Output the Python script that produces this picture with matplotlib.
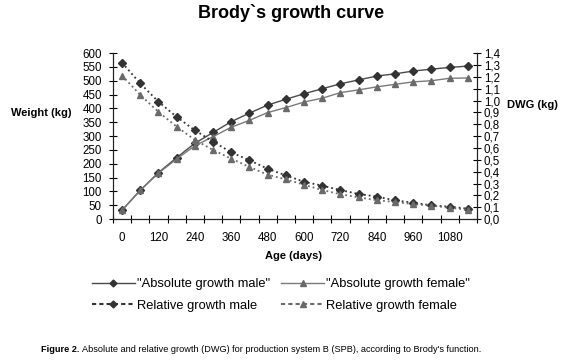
import matplotlib
matplotlib.use("Agg")
import matplotlib.pyplot as plt
from matplotlib.lines import Line2D
import numpy as np

plt.rcParams['font.family'] = ['Liberation Sans', 'DejaVu Sans']

# ages (days), one category every 60 days
age = [0, 60, 120, 180, 240, 300, 360, 420, 480, 540, 600, 660,
       720, 780, 840, 900, 960, 1020, 1080, 1140]

# absolute growth, weight (kg)
abs_male = [32, 104, 168, 222, 274, 313, 352, 383, 412, 433, 453, 471,
            489, 503, 517, 525, 535, 542, 548, 553]
abs_female = [32, 104, 166, 217, 265, 298, 332, 357, 385, 403, 423, 437,
              457, 467, 478, 487, 496, 500, 509, 510]

# relative growth, DWG (kg)
rel_male = [1.32, 1.144, 0.99, 0.862, 0.749, 0.654, 0.563, 0.496, 0.425, 0.369,
            0.315, 0.282, 0.245, 0.212, 0.19, 0.158, 0.139, 0.116, 0.105, 0.088]
rel_female = [1.21, 1.048, 0.904, 0.78, 0.668, 0.583, 0.51, 0.44, 0.375, 0.335,
              0.29, 0.245, 0.21, 0.183, 0.16, 0.144, 0.127, 0.113, 0.096, 0.079]

x_labels = [0, 120, 240, 360, 480, 600, 720, 840, 960, 1080]
w_ticks = list(range(0, 601, 50))
dwg_ticks = [i / 10 for i in range(0, 15)]

dark = '#333333'
mid = '#6a6a6a'

fig = plt.figure(figsize=(5.76, 3.61), dpi=100)
ax = fig.add_axes([0.196, 0.393, 0.632, 0.46])
ax2 = ax.twinx()

ax.plot(age, abs_male, '-', color='#4a4a4a', lw=1.0, marker='D', ms=4,
        mfc=dark, mec=dark)
ax.plot(age, abs_female, '-', color='#7a7a7a', lw=1.0, marker='^', ms=5,
        mfc=mid, mec=mid)
ax2.plot(age, rel_male, ':', color=dark, lw=1.3, marker='D', ms=4,
         mfc=dark, mec=dark)
ax2.plot(age, rel_female, ':', color=mid, lw=1.3, marker='^', ms=5,
         mfc=mid, mec=mid)

ax.set_xlim(-30, 1170)
ax.set_ylim(0, 600)
ax2.set_ylim(0, 1.4)

# category boundaries get the tick marks, labels sit in between
ax.set_xticks(np.arange(-30, 1171, 60))
ax.set_xticklabels([])
ax.set_xticks(x_labels, minor=True)
ax.set_xticklabels([str(v) for v in x_labels], minor=True, fontsize=8.3)
ax.tick_params(axis='x', which='minor', length=0, pad=9)
ax.tick_params(axis='x', which='major', direction='inout', length=6, width=0.8)

ax.set_yticks(w_ticks)
ax.set_yticklabels([str(v) for v in w_ticks], fontsize=8.3)
ax.tick_params(axis='y', direction='inout', length=6, width=0.8, pad=5)
ax2.set_yticks(dwg_ticks)
ax2.set_yticklabels([f'{v:.1f}'.replace('.', ',') for v in dwg_ticks], fontsize=8.3)
ax2.tick_params(axis='y', direction='inout', length=6, width=0.8, pad=2)

for a in (ax, ax2):
    a.spines['top'].set_visible(False)
    for s in ('left', 'bottom', 'right'):
        a.spines[s].set_color('#222222')
        a.spines[s].set_linewidth(0.8)

fig.text(0.505, 0.965, 'Brody`s growth curve', ha='center', va='center',
         fontsize=13, fontweight='bold')
fig.text(0.072, 0.687, 'Weight (kg)', ha='center', va='center',
         fontsize=8, fontweight='bold')
fig.text(0.925, 0.71, 'DWG (kg)', ha='center', va='center',
         fontsize=8, fontweight='bold')
fig.text(0.51, 0.29, 'Age (days)', ha='center', va='center',
         fontsize=8, fontweight='bold')

# legend handles: solid for absolute, short dashes for relative
h_abs_m = Line2D([], [], color='#4a4a4a', lw=1.0, marker='D', ms=3.5, mfc=dark, mec=dark)
h_abs_f = Line2D([], [], color='#7a7a7a', lw=1.0, marker='^', ms=4.5, mfc=mid, mec=mid)
h_rel_m = Line2D([], [], color=dark, lw=1.5, ls=(0, (2, 1.5)), marker='D', ms=3.5, mfc=dark, mec=dark)
h_rel_f = Line2D([], [], color=mid, lw=1.5, ls=(0, (2, 1.5)), marker='^', ms=4.5, mfc=mid, mec=mid)

fig.legend([h_abs_m, h_rel_m, h_abs_f, h_rel_f],
           ['"Absolute growth male"', 'Relative growth male',
            '"Absolute growth female"', 'Relative growth female'],
           ncol=2, loc='center', bbox_to_anchor=(0.488, 0.183), frameon=False,
           fontsize=9.3, handlelength=3.3, handletextpad=0.2,
           columnspacing=0.85, labelspacing=0.75, numpoints=1)

# caption: bold prefix then plain text
cap = fig.text(0.072, 0.033, 'Figure 2.', fontsize=6.6, fontweight='bold',
               va='center')
fig.canvas.draw()
bb = cap.get_window_extent(renderer=fig.canvas.get_renderer())
x_end = bb.x1 / fig.bbox.width
fig.text(x_end + 0.004, 0.033,
         "Absolute and relative growth (DWG) for production system B (SPB), "
         "according to Brody's function.", fontsize=6.6, va='center')

fig.savefig('out.png', dpi=100)
